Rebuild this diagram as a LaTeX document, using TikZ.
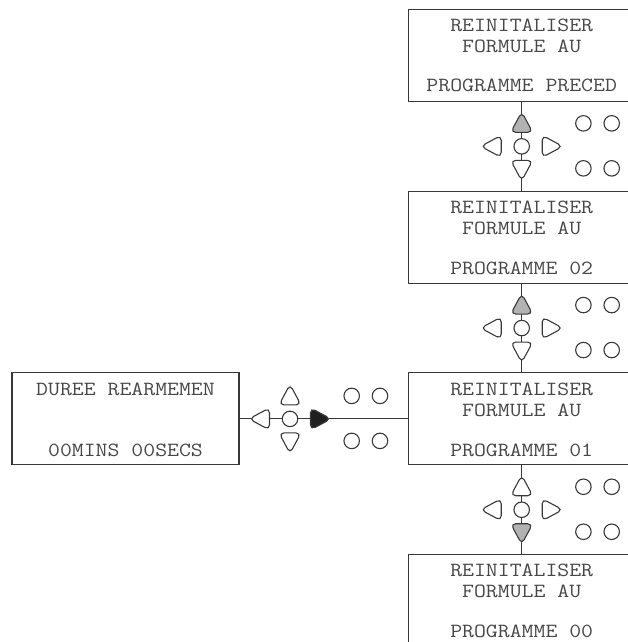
\documentclass[tikz,border=0pt]{standalone}
\usepackage{fontspec}
\newfontfamily\lcdfont[FakeStretch=1.15]{Latin Modern Mono}
\usetikzlibrary{calc}
\definecolor{linecol}{gray}{0.22}
\definecolor{txtcol}{gray}{0.28}
\definecolor{grayfill}{gray}{0.70}
\definecolor{darkfill}{gray}{0.12}
\begin{document}
\begin{tikzpicture}[x=1pt,y=-1pt,
  keyline/.style={draw=linecol, line width=1.1pt},
  screen/.style={draw=linecol, line width=1.1pt, minimum width=227pt, minimum height=92pt, inner sep=0pt, outer sep=0pt},
  lcd/.style={anchor=base, inner sep=0pt, text=txtcol, font=\lcdfont\fontsize{20.1}{24}\selectfont},
  keyc/.style={circle, keyline, minimum size=15.5pt, inner sep=0pt, fill=white},
  spare/.style={circle, keyline, minimum size=15.5pt, inner sep=0pt},
  pics/keytri/.style={code={\draw[keyline, rounded corners=5pt, fill=#1] (-9.5,0) -- (-9.5,11) -- (11,0) -- (-9.5,-11) -- cycle;}},
  pics/keytri/.default=white
]
\useasboundingbox (0,0) rectangle (628,642);
\clip (0,0) rectangle (628,642);

% screens
\node[screen] (b1) at (521.7,55.5) {};
\node[screen] (b2) at (521.7,237.2) {};
\node[screen] (b3) at (521.7,418.9) {};
\node[screen] (b4) at (521.7,600.6) {};
\node[screen] (L) at (125.5,418.9) {};

% texts
\node[lcd] (t1a) at ($(b1.north)+(0,22.2)$) {REINITALISER};
\node[lcd] (t1b) at ($(b1.north)+(0,43.2)$) {FORMULE AU};
\node[lcd] (t1c) at ($(b1.north)+(0,82.2)$) {PROGRAMME PRECED};
\node[lcd] (t2a) at ($(b2.north)+(0,22.2)$) {REINITALISER};
\node[lcd] (t2b) at ($(b2.north)+(0,43.2)$) {FORMULE AU};
\node[lcd] (t2c) at ($(b2.north)+(0,83.2)$) {PROGRAMME 02};
\node[lcd] (t3a) at ($(b3.north)+(0,22.2)$) {REINITALISER};
\node[lcd] (t3b) at ($(b3.north)+(0,43.2)$) {FORMULE AU};
\node[lcd] (t3c) at ($(b3.north)+(0,83.2)$) {PROGRAMME 01};
\node[lcd] (t4a) at ($(b4.north)+(0,22.2)$) {REINITALISER};
\node[lcd] (t4b) at ($(b4.north)+(0,43.2)$) {FORMULE AU};
\node[lcd] (t4c) at ($(b4.north)+(0,83.2)$) {PROGRAMME 00};
\node[lcd] (tLa) at ($(L.north)+(0,22.2)$) {DUREE REARMEMEN};
\node[lcd] (tLb) at ($(L.north)+(0,83.2)$) {00MINS 00SECS};

% connectors
\draw[keyline] (b1.south) -- (b2.north);
\draw[keyline] (b2.south) -- (b3.north);
\draw[keyline] (b3.south) -- (b4.north);
\draw[keyline] (L.east) -- (b3.west);

\coordinate (k1) at ($(b1.south)!0.5!(b2.north)$);
\coordinate (k2) at ($(b2.south)!0.5!(b3.north)$);
\coordinate (k3) at ($(b3.south)!0.5!(b4.north)$);
\coordinate (k0) at (290,418.9);

% keypad 1
\begin{scope}[shift={(k1)}]
  \node[keyc] (c1) at (0,0) {};
  \pic[rotate=90] (u1) at (0,-23.5) {keytri=grayfill};
  \pic[rotate=-90] (d1) at (0,23.5) {keytri};
  \pic[rotate=180] (l1) at (-30,0) {keytri};
  \pic (r1) at (30,0) {keytri};
  \node[spare] (s1a) at (61.7,-23) {};
  \node[spare] (s1b) at (90,-23) {};
  \node[spare] (s1c) at (61.7,22) {};
  \node[spare] (s1d) at (90,22) {};
\end{scope}

% keypad 2
\begin{scope}[shift={(k2)}]
  \node[keyc] (c2) at (0,0) {};
  \pic[rotate=90] (u2) at (0,-23.5) {keytri=grayfill};
  \pic[rotate=-90] (d2) at (0,23.5) {keytri};
  \pic[rotate=180] (l2) at (-30,0) {keytri};
  \pic (r2) at (30,0) {keytri};
  \node[spare] (s2a) at (61.7,-23) {};
  \node[spare] (s2b) at (90,-23) {};
  \node[spare] (s2c) at (61.7,22) {};
  \node[spare] (s2d) at (90,22) {};
\end{scope}

% keypad 3
\begin{scope}[shift={(k3)}]
  \node[keyc] (c3) at (0,0) {};
  \pic[rotate=90] (u3) at (0,-23.5) {keytri};
  \pic[rotate=-90] (d3) at (0,23.5) {keytri=grayfill};
  \pic[rotate=180] (l3) at (-30,0) {keytri};
  \pic (r3) at (30,0) {keytri};
  \node[spare] (s3a) at (61.7,-23) {};
  \node[spare] (s3b) at (90,-23) {};
  \node[spare] (s3c) at (61.7,22) {};
  \node[spare] (s3d) at (90,22) {};
\end{scope}

% horizontal keypad
\begin{scope}[shift={(k0)}]
  \node[keyc] (c0) at (0,0) {};
  \pic[rotate=90] (u0) at (0,-23.5) {keytri};
  \pic[rotate=-90] (d0) at (0,23.5) {keytri};
  \pic[rotate=180] (l0) at (-30,0) {keytri};
  \pic (r0) at (30,0) {keytri=darkfill};
  \node[spare] (s0a) at (61.7,-23) {};
  \node[spare] (s0b) at (90,-23) {};
  \node[spare] (s0c) at (61.7,22) {};
  \node[spare] (s0d) at (90,22) {};
\end{scope}
\end{tikzpicture}
\end{document}
